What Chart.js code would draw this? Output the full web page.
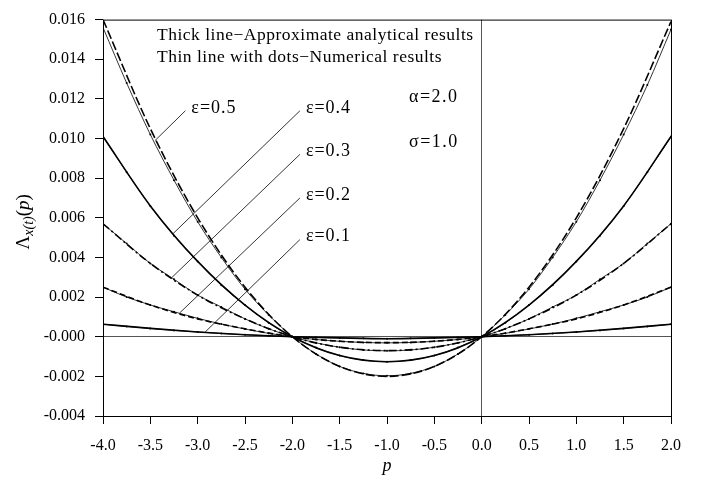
<!DOCTYPE html>
<html>
<head>
<meta charset="utf-8">
<script src="https://cdn.jsdelivr.net/npm/chart.js@4.4.1/dist/chart.umd.min.js"></script>
<style>
  html, body { margin: 0; padding: 0; background: #fff; }
  #wrap { width: 706px; height: 480px; }
</style>
</head>
<body>
<div id="wrap"><canvas id="chart" width="706" height="480"></canvas></div>
<script>
// p values: analytical curves sampled every 0.5, numerical every 0.25
const pCoarse = [-4, -3.5, -3, -2.5, -2, -1.5, -1, -0.5, 0, 0.5, 1, 1.5, 2];
const pFine = [-4, -3.75, -3.5, -3.25, -3, -2.75, -2.5, -2.25, -2, -1.75, -1.5, -1.25, -1,
  -0.75, -0.5, -0.25, 0, 0.25, 0.5, 0.75, 1, 1.25, 1.5, 1.75, 2];

// approximate analytical results (thick lines)
const ana05 = [0.0160, 0.0105, 0.0060, 0.0025, 0, -0.0015, -0.0020, -0.0015, 0, 0.0025, 0.0060, 0.0105, 0.0159];
const ana04 = [0.0101, 0.0066, 0.0038, 0.0016, 0, -0.00095, -0.00126, -0.00095, 0, 0.0016, 0.0038, 0.0066, 0.0101];
const ana03 = [0.0057, 0.0037, 0.0021, 0.0009, 0, -0.00053, -0.0007, -0.00053, 0, 0.0009, 0.0021, 0.0037, 0.0057];
const ana02 = [0.0025, 0.0016, 0.0009, 0.0004, 0, -0.00023, -0.0003, -0.00023, 0, 0.0004, 0.0009, 0.0016, 0.0025];
const ana01 = [0.00063, 0.00042, 0.00024, 0.0001, 0, -0.00006, -0.0001, -0.00006, 0, 0.0001, 0.00024, 0.00042, 0.00063];

// numerical results (thin lines with dots)
const num05 = [0.0156, 0.0128, 0.0102, 0.0079, 0.0058, 0.0040, 0.0024, 0.0011, 0, -0.00087, -0.0015, -0.00185, -0.00197,
  -0.00185, -0.0015, -0.00087, 0, 0.0011, 0.0024, 0.0040, 0.0058, 0.0079, 0.0102, 0.0127, 0.0155];
const num04 = [0.0101, 0.0083, 0.0066, 0.0051, 0.0038, 0.0026, 0.0016, 0.0007, 0, -0.00055, -0.00095, -0.00118, -0.00126,
  -0.00118, -0.00095, -0.00055, 0, 0.0007, 0.0016, 0.0026, 0.0038, 0.0051, 0.0066, 0.0083, 0.0101];
const num03 = [0.0057, 0.0047, 0.0037, 0.0029, 0.0021, 0.0015, 0.0009, 0.0004, 0, -0.00031, -0.00053, -0.00067, -0.00071,
  -0.00067, -0.00053, -0.00031, 0, 0.0004, 0.0009, 0.0015, 0.0021, 0.0029, 0.0037, 0.0047, 0.0057];
const num02 = [0.0025, 0.0020, 0.0016, 0.00126, 0.00093, 0.00064, 0.00039, 0.00017, 0, -0.00014, -0.00023, -0.00029, -0.00031,
  -0.00029, -0.00023, -0.00014, 0, 0.00017, 0.00039, 0.00064, 0.00093, 0.00126, 0.0016, 0.0020, 0.0025];
const num01 = [0.00063, 0.00052, 0.00042, 0.00032, 0.00024, 0.00016, 0.0001, 0.00005, 0, -0.00004, -0.00006, -0.00008, -0.0001,
  -0.00008, -0.00006, -0.00004, 0, 0.00005, 0.0001, 0.00016, 0.00024, 0.00032, 0.00042, 0.00052, 0.00063];

const epsNames = ["ε=0.5", "ε=0.4", "ε=0.3", "ε=0.2", "ε=0.1"];
const xTicks = [-4, -3.5, -3, -2.5, -2, -1.5, -1, -0.5, 0, 0.5, 1, 1.5, 2];
const yTicks = [-0.004, -0.002, 0, 0.002, 0.004, 0.006, 0.008, 0.010, 0.012, 0.014, 0.016];

const FONT = "'Liberation Serif', 'Times New Roman', serif";

function pts(xs, ys) { return xs.map((x, i) => ({ x: x, y: ys[i] })); }

function thick(data, dash) {
  return {
    data: pts(pCoarse, data), showLine: true, borderColor: "#000", borderWidth: 1.6,
    borderDash: dash, pointRadius: 0, cubicInterpolationMode: "monotone", fill: false
  };
}
function thin(data) {
  return {
    data: pts(pFine, data), showLine: true, borderColor: "#000", borderWidth: 0.8,
    pointRadius: 1, pointBackgroundColor: "#000", pointBorderWidth: 0,
    cubicInterpolationMode: "monotone", fill: false
  };
}

// leader lines: [label x, label y, curve x, curve y] in data units
const leaders = [
  [-3.13, 0.0114, -3.45, 0.0099],
  [-1.92, 0.0114, -3.26, 0.0052],
  [-1.92, 0.0092, -3.27, 0.0030],
  [-1.92, 0.0070, -3.19, 0.0012],
  [-1.92, 0.0049, -2.92, 0.00024]
];

const notes = {
  id: "notes",
  afterDatasetsDraw(chart) {
    const { ctx, chartArea: a, scales: { x, y } } = chart;
    ctx.save();
    // frame
    ctx.strokeStyle = "#000";
    ctx.lineWidth = 1;
    ctx.strokeRect(a.left + 0.5, a.top + 0.5, a.right - a.left, a.bottom - a.top);

    ctx.fillStyle = "#000";
    ctx.textBaseline = "middle";
    ctx.lineWidth = 0.8;
    ctx.font = "18px " + FONT;
    ctx.letterSpacing = "1px";
    leaders.forEach((l, i) => {
      const x0 = x.getPixelForValue(l[0]), y0 = y.getPixelForValue(l[1]);
      const x1 = x.getPixelForValue(l[2]), y1 = y.getPixelForValue(l[3]);
      ctx.beginPath();
      ctx.moveTo(x0, y0);
      ctx.lineTo(x1, y1);
      ctx.stroke();
      ctx.fillText(epsNames[i], x0 + 6, y0 - 3);
    });
    ctx.letterSpacing = "1.5px";
    ctx.fillText("\u03b1=2.0", 409, 97);
    ctx.fillText("\u03c3=1.0", 409, 142);

    ctx.font = "17.5px " + FONT;
    ctx.letterSpacing = "0.5px";
    ctx.fillText("Thick line\u2212Approximate analytical results", 157, 35);
    ctx.fillText("Thin line with dots\u2212Numerical results", 157, 57);
    ctx.letterSpacing = "0px";

    // y axis title with subscript
    ctx.translate(22, (a.top + a.bottom) / 2 + 4);
    ctx.rotate(-Math.PI / 2);
    ctx.textBaseline = "alphabetic";
    ctx.textAlign = "left";
    const parts = [["\u039b", "19px " + FONT, 0], ["x(t)", "italic 14px " + FONT, 4], ["(", "19px " + FONT, 0], ["p", "italic 19px " + FONT, 0], [")", "19px " + FONT, 0]];
    let w = 0;
    parts.forEach(p => { ctx.font = p[1]; w += ctx.measureText(p[0]).width; });
    let cx = -w / 2;
    parts.forEach(p => { ctx.font = p[1]; ctx.fillText(p[0], cx, 7 + p[2]); cx += ctx.measureText(p[0]).width; });
    ctx.restore();
  }
};

new Chart(document.getElementById("chart"), {
  type: "scatter",
  data: {
    datasets: [
      thick(ana05, [9, 3]), thin(num05),
      thick(ana04, []), thin(num04),
      thick(ana03, [8, 3, 2, 3]), thin(num03),
      thick(ana02, [6, 3]), thin(num02),
      thick(ana01, []), thin(num01)
    ]
  },
  options: {
    responsive: false,
    animation: false,
    events: [],
    layout: { padding: { left: 0, right: 35, top: 6, bottom: 0 } },
    plugins: { legend: { display: false }, tooltip: { enabled: false } },
    scales: {
      x: {
        type: "linear", min: -4, max: 2,
        afterBuildTicks: s => { s.ticks = xTicks.map(v => ({ value: v })); },
        afterFit: s => { s.height = 64; },
        border: { display: false },
        grid: {
          drawOnChartArea: true, tickLength: 8, tickColor: "#000", lineWidth: 1,
          color: c => (c.tick && c.tick.value === 0 ? "#555" : "rgba(0,0,0,0)")
        },
        ticks: { color: "#000", padding: 12, font: { family: FONT, size: 16 }, callback: v => v.toFixed(1), maxRotation: 0 },
        title: { display: true, text: "p", color: "#000", font: { family: FONT, size: 18, style: "italic" }, padding: { top: 0, bottom: 3 } }
      },
      y: {
        type: "linear", min: -0.004, max: 0.016,
        afterBuildTicks: s => { s.ticks = yTicks.map(v => ({ value: v })); },
        afterFit: s => { s.width = 103; },
        border: { display: false },
        grid: {
          drawOnChartArea: true, tickLength: 8, tickColor: "#000", lineWidth: 1,
          color: c => (c.tick && Math.abs(c.tick.value) < 1e-9 ? "#555" : "rgba(0,0,0,0)")
        },
        ticks: {
          color: "#000", padding: 10, font: { family: FONT, size: 16 },
          callback: v => (Math.abs(v) < 1e-9 ? "-0.000" : v.toFixed(3))
        }
      }
    }
  },
  plugins: [notes]
});
</script>
</body>
</html>
